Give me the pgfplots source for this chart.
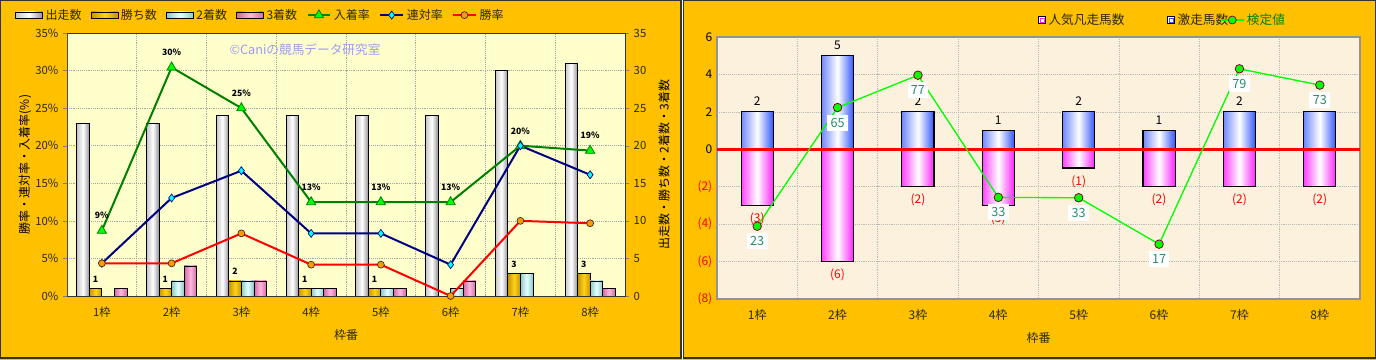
\documentclass[border=0pt]{standalone}
\usepackage{pgfplots}
\pgfplotsset{compat=1.18}
\usepackage{fontspec}
\setmainfont{Noto Sans CJK JP}
\definecolor{panel}{HTML}{FFC000}
\definecolor{plotbgL}{HTML}{FFFFCC}
\definecolor{plotbgR}{HTML}{FBF1DC}
\definecolor{dkgreen}{HTML}{008000}
\definecolor{ltgreen}{HTML}{00FF00}
\definecolor{navyL}{HTML}{000080}
\definecolor{cyanM}{HTML}{00FFFF}
\definecolor{orangeM}{HTML}{FF9900}
\definecolor{tealL}{HTML}{2E8B6E}
\definecolor{txt}{HTML}{2B2B00}
\definecolor{wm}{HTML}{9C9CF2}
\definecolor{barblue}{HTML}{3355FF}
\definecolor{barpink}{HTML}{FF22FF}
\definecolor{goldA}{HTML}{C89400}
\definecolor{goldB}{HTML}{FFD21A}
\definecolor{cyA}{HTML}{8CC8C8}
\definecolor{cyB}{HTML}{E6FFFF}
\definecolor{pkA}{HTML}{D46AA6}
\definecolor{pkB}{HTML}{FFB8DD}
\tikzset{
  runbar/.style={draw=black, line width=0.6pt, left color=gray!45, right color=gray!85, middle color=white},
  winbar/.style={draw=black, line width=0.6pt, left color=goldA, right color=goldA, middle color=goldB},
  secbar/.style={draw=black, line width=0.6pt, left color=cyA, right color=cyA, middle color=cyB},
  thrbar/.style={draw=black, line width=0.6pt, left color=pkA, right color=pkA, middle color=pkB},
  bluebar/.style={draw=black, line width=0.8pt, left color=barblue!70, right color=barblue, middle color=white},
  pinkbar/.style={draw=black, line width=0.8pt, left color=barpink!85, right color=barpink, middle color=white},
}
% one bar per plot, so that each bar gets its own shading
\newcommand{\lbar}[4]{\addplot[ybar, bar width=0.18, bar shift=#3, #4, forget plot] coordinates {(#1,#2)};}
\newcommand{\rbar}[3]{\addplot[ybar, bar width=0.4, bar shift=0, #3, forget plot] coordinates {(#1,#2)};}
\begin{document}
\begin{tikzpicture}
\begin{scope}[x=0.75pt,y=0.75pt]
\path[use as bounding box] (0,0) rectangle (1376,360);
\fill[panel] (0,0) rectangle (682,360);
\draw[black!80, line width=0.9pt] (0.6,2) rectangle (681,359.4);
\fill[panel] (683,0) rectangle (1376,360);
\draw[black!80, line width=0.9pt] (683.6,2) rectangle (1375.4,359.4);
\end{scope}

% ---------- left panel: bars (right axis) ----------
\begin{axis}[
  at={(50.25pt,48pt)}, anchor=south west, scale only axis,
  width=418.5pt, height=197.25pt,
  xmin=-0.5, xmax=7.5, ymin=0, ymax=35,
  axis background/.style={fill=plotbgL},
  xtick={0,...,7}, xticklabels={1枠,2枠,3枠,4枠,5枠,6枠,7枠,8枠},
  minor xtick={0.5,1.5,...,6.5},
  xminorgrids, ymajorgrids,
  grid style={densely dotted, gray!70},
  minor grid style={densely dotted, gray!70},
  ytick={0,5,...,35},
  ytick pos=right, yticklabel pos=right,
  tick align=outside, major tick length=3pt,
  major x tick style={draw=none}, minor x tick style={draw=none},
  axis line style={black!80},
  every tick label/.append style={font=\fontsize{8.5}{10}\selectfont, text=txt},
  xticklabel style={yshift=-2pt},
  /pgf/number format/assume math mode=true,
  ylabel={出走数・勝ち数・2着数・3着数},
  every axis y label/.style={at={(axis description cs:1.07,0.5)}, anchor=center, rotate=90, font=\fontsize{9}{10}\selectfont, text=black},
  xlabel={枠番},
  every axis x label/.style={at={(axis description cs:0.5,-0.148)}, anchor=center, font=\fontsize{9}{10}\selectfont, text=txt},
]
% 出走数
\lbar{0}{23}{-0.27}{runbar}\lbar{1}{23}{-0.27}{runbar}\lbar{2}{24}{-0.27}{runbar}\lbar{3}{24}{-0.27}{runbar}
\lbar{4}{24}{-0.27}{runbar}\lbar{5}{24}{-0.27}{runbar}\lbar{6}{30}{-0.27}{runbar}\lbar{7}{31}{-0.27}{runbar}
% 勝ち数
\lbar{0}{1}{-0.09}{winbar}\lbar{1}{1}{-0.09}{winbar}\lbar{2}{2}{-0.09}{winbar}\lbar{3}{1}{-0.09}{winbar}
\lbar{4}{1}{-0.09}{winbar}\lbar{6}{3}{-0.09}{winbar}\lbar{7}{3}{-0.09}{winbar}
% 2着数
\lbar{1}{2}{0.09}{secbar}\lbar{2}{2}{0.09}{secbar}\lbar{3}{1}{0.09}{secbar}
\lbar{4}{1}{0.09}{secbar}\lbar{5}{1}{0.09}{secbar}\lbar{6}{3}{0.09}{secbar}\lbar{7}{2}{0.09}{secbar}
% 3着数
\lbar{0}{1}{0.27}{thrbar}\lbar{1}{4}{0.27}{thrbar}\lbar{2}{2}{0.27}{thrbar}\lbar{3}{1}{0.27}{thrbar}
\lbar{4}{1}{0.27}{thrbar}\lbar{5}{2}{0.27}{thrbar}\lbar{7}{1}{0.27}{thrbar}
\addplot[draw=none, mark=none, forget plot, nodes near coords, point meta=explicit symbolic,
  nodes near coords align={above},
  every node near coord/.append style={text=black, font=\bfseries\fontsize{6.5}{7}\selectfont, yshift=1pt}]
  coordinates {(-0.09,1)[1] (0.91,1)[1] (1.91,2)[2] (2.91,1)[1] (3.91,1)[1] (5.91,3)[3] (6.91,3)[3]};
\end{axis}

% ---------- left panel: rates (left axis) ----------
\begin{axis}[
  at={(50.25pt,48pt)}, anchor=south west, scale only axis,
  width=418.5pt, height=197.25pt,
  xmin=-0.5, xmax=7.5, ymin=0, ymax=35,
  hide x axis, axis y line*=left,
  ytick={0,5,...,35},
  /pgf/number format/assume math mode=true,
  yticklabel={\pgfmathprintnumber{\tick}\%},
  tick align=outside, major tick length=3pt,
  axis line style={black!70},
  every tick label/.append style={font=\fontsize{8.5}{10}\selectfont, text=txt},
  ylabel={勝率・連対率・入着率(\%)},
  every axis y label/.style={at={(axis description cs:-0.0753,0.5)}, anchor=center, rotate=90, font=\fontsize{9}{10}\selectfont, text=black},
  legend columns=7,
  legend style={at={(axis description cs:-0.093,1.068)}, anchor=west, draw=none, fill=none,
    font=\fontsize{9}{10}\selectfont, text=txt, inner sep=0pt,
    /tikz/every even column/.append style={column sep=5pt}},
  legend entries={出走数,勝ち数,2着数,3着数,入着率,連対率,勝率},
]
\addlegendimage{legend image code/.code={\draw[runbar] (0pt,-2.4pt) rectangle (20pt,2.4pt);}}
\addlegendimage{legend image code/.code={\draw[winbar] (0pt,-2.4pt) rectangle (20pt,2.4pt);}}
\addlegendimage{legend image code/.code={\draw[secbar] (0pt,-2.4pt) rectangle (20pt,2.4pt);}}
\addlegendimage{legend image code/.code={\draw[thrbar] (0pt,-2.4pt) rectangle (20pt,2.4pt);}}
\addplot[dkgreen, line width=1.5pt, mark=triangle*, mark size=4pt,
  mark options={fill=ltgreen, draw=dkgreen, line width=0.6pt},
  nodes near coords, point meta=explicit symbolic, nodes near coords align={above},
  every node near coord/.append style={text=black, font=\bfseries\fontsize{6.5}{7}\selectfont, yshift=5pt}]
  coordinates {(0,8.70)[9\%] (1,30.43)[30\%] (2,25.00)[25\%] (3,12.50)[13\%] (4,12.50)[13\%] (5,12.50)[13\%] (6,20.00)[20\%] (7,19.35)[19\%]};
\addplot[navyL, line width=1.5pt, mark=diamond*, mark size=3pt,
  mark options={fill=cyanM, draw=navyL, line width=0.5pt}]
  coordinates {(0,4.35) (1,13.04) (2,16.67) (3,8.33) (4,8.33) (5,4.17) (6,20.00) (7,16.13)};
\addplot[red, line width=1.5pt, mark=*, mark size=2.6pt,
  mark options={fill=orangeM, draw=black!70!brown, line width=0.5pt}]
  coordinates {(0,4.35) (1,4.35) (2,8.33) (3,4.17) (4,4.17) (5,0) (6,10.00) (7,9.68)};
\end{axis}
\node[text=wm, font=\fontsize{9.5}{11}\selectfont] at (228.75pt,232.5pt) {©Caniの競馬データ研究室};

% ---------- right panel ----------
\begin{axis}[
  at={(537.75pt,45.75pt)}, anchor=south west, scale only axis,
  width=482.25pt, height=196.5pt,
  xmin=-0.5, xmax=7.5, ymin=-8, ymax=6,
  axis background/.style={fill=plotbgR},
  xtick={0,...,7}, xticklabels={1枠,2枠,3枠,4枠,5枠,6枠,7枠,8枠},
  minor xtick={0.5,1.5,...,6.5},
  xminorgrids, ymajorgrids,
  grid style={densely dotted, gray!55},
  minor grid style={densely dotted, gray!55},
  ytick={-8,-6,...,6},
  yticklabels={{\textcolor{red}{(8)}},{\textcolor{red}{(6)}},{\textcolor{red}{(4)}},{\textcolor{red}{(2)}},0,2,4,6},
  major tick style={draw=none}, minor tick style={draw=none},
  axis line style={gray!85, line width=1.2pt},
  every tick label/.append style={font=\fontsize{9}{10}\selectfont},
  xticklabel style={yshift=-4pt, text=txt},
  xlabel={枠番},
  every axis x label/.style={at={(axis description cs:0.5,-0.149)}, anchor=center, font=\fontsize{9}{10}\selectfont, text=txt},
  legend columns=3,
  legend style={at={(axis description cs:0.499,1.065)}, anchor=west, draw=none, fill=none,
    font=\fontsize{9.5}{11}\selectfont, text=txt, inner sep=0pt,
    /tikz/column 2/.style={column sep=30pt},
    /tikz/column 4/.style={column sep=-8pt}},
  legend entries={人気凡走馬数,激走馬数,\textcolor{dkgreen}{検定値}},
]
\addlegendimage{legend image code/.code={\draw[black, line width=0.6pt, fill=white] (0pt,-2.6pt) rectangle (5.2pt,2.6pt); \draw[barpink, line width=0.5pt] (1pt,-1.6pt) rectangle (4.2pt,1.6pt);}}
\addlegendimage{legend image code/.code={\draw[black, line width=0.6pt, fill=white] (0pt,-2.6pt) rectangle (5.2pt,2.6pt); \draw[barblue, line width=0.5pt] (1pt,-1.6pt) rectangle (4.2pt,1.6pt);}}
\addlegendimage{legend image code/.code={\draw[ltgreen, line width=1pt] (0pt,0pt) -- (17pt,0pt); \fill[ltgreen, draw=purple!70!black, line width=0.5pt] (8.5pt,0pt) circle (3pt);}}
% 人気凡走馬数
\rbar{0}{2}{bluebar}\rbar{1}{5}{bluebar}\rbar{2}{2}{bluebar}\rbar{3}{1}{bluebar}
\rbar{4}{2}{bluebar}\rbar{5}{1}{bluebar}\rbar{6}{2}{bluebar}\rbar{7}{2}{bluebar}
% 激走馬数
\rbar{0}{-3}{pinkbar}\rbar{1}{-6}{pinkbar}\rbar{2}{-2}{pinkbar}\rbar{3}{-3}{pinkbar}
\rbar{4}{-1}{pinkbar}\rbar{5}{-2}{pinkbar}\rbar{6}{-2}{pinkbar}\rbar{7}{-2}{pinkbar}
\addplot[red, line width=2.2pt, forget plot] coordinates {(-0.5,0) (7.5,0)};
\addplot[draw=none, mark=none, forget plot, nodes near coords, point meta=explicit symbolic,
  nodes near coords align={above},
  every node near coord/.append style={text=black, font=\fontsize{9}{10}\selectfont, yshift=1pt}]
  coordinates {(0,2)[2] (1,5)[5] (2,2)[2] (3,1)[1] (4,2)[2] (5,1)[1] (6,2)[2] (7,2)[2]};
\addplot[draw=none, mark=none, forget plot, nodes near coords, point meta=explicit symbolic,
  nodes near coords align={below},
  every node near coord/.append style={text=red, font=\fontsize{9}{10}\selectfont, yshift=-2pt}]
  coordinates {(0,-3)[{(3)}] (1,-6)[{(6)}] (2,-2)[{(2)}] (3,-3)[{(3)}] (4,-1)[{(1)}] (5,-2)[{(2)}] (6,-2)[{(2)}] (7,-2)[{(2)}]};
\addplot[ltgreen, line width=1pt, mark=*, mark size=3.2pt, forget plot,
  mark options={fill=ltgreen, draw=purple!70!black, line width=0.6pt},
  nodes near coords, point meta=explicit symbolic, nodes near coords align={below},
  every node near coord/.append style={text=tealL, fill=white, inner sep=2.5pt, font=\fontsize{9.5}{11}\selectfont, yshift=-5pt}]
  coordinates {(0,-4.11)[23] (1,2.23)[65] (2,3.96)[77] (3,-2.57)[33] (4,-2.59)[33] (5,-5.07)[17] (6,4.30)[79] (7,3.43)[73]};
\end{axis}
\end{tikzpicture}
\end{document}
